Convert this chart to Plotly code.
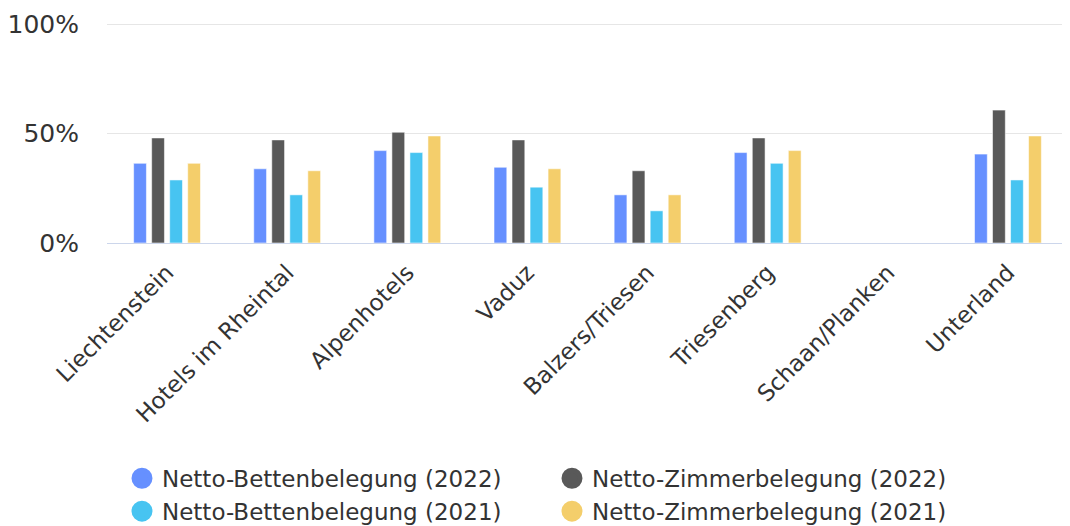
import plotly.graph_objects as go

categories = ["Liechtenstein", "Hotels im Rheintal", "Alpenhotels", "Vaduz",
              "Balzers/Triesen", "Triesenberg", "Schaan/Planken", "Unterland"]
betten_2022 = [36.4, 33.9, 42.2, 34.6, 22.0, 41.3, None, 40.6]
zimmer_2022 = [48.0, 47.1, 50.6, 47.1, 33.0, 48.0, None, 60.7]
betten_2021 = [28.8, 22.0, 41.3, 25.5, 14.7, 36.4, None, 28.8]
zimmer_2021 = [36.4, 33.0, 48.9, 33.9, 22.0, 42.2, None, 48.9]

series_names = ["Netto-Bettenbelegung (2022)", "Netto-Zimmerbelegung (2022)",
                "Netto-Bettenbelegung (2021)", "Netto-Zimmerbelegung (2021)"]
series_values = [betten_2022, zimmer_2022, betten_2021, zimmer_2021]
colors = ["#6690ff", "#595959", "#47c4f1", "#f4ce6b"]
y_ticks = [0, 50, 100]
y_tick_labels = ["0%", "50%", "100%"]

FONT = "DejaVu Sans"
fig = go.Figure()
for name, vals, col in zip(series_names, series_values, colors):
    fig.add_trace(go.Bar(
        x=categories, y=vals, name=name, showlegend=False,
        marker=dict(color=col, line=dict(color="rgba(255,255,255,0.55)", width=1)),
    ))
for name, col in zip(series_names, colors):
    fig.add_trace(go.Scatter(
        x=[None], y=[None], mode="markers", name=name,
        marker=dict(symbol="circle", size=16, color=col, line=dict(color=col, width=5)),
    ))

fig.update_layout(
    width=1062, height=518,
    margin=dict(l=99, r=2, t=15, b=283, autoexpand=False),
    paper_bgcolor="white", plot_bgcolor="white",
    barmode="group", bargap=0.4, bargroupgap=0.29,
    font=dict(family=FONT, color="#333333", size=23),
    legend=dict(
        orientation="h", x=0.0156, xanchor="left", y=-0.972, yanchor="top",
        entrywidth=385, font=dict(size=23, family=FONT, color="#333333"),
    ),
)
fig.update_xaxes(
    tickangle=-45, showline=True, linecolor="#ccd6eb", linewidth=1,
    showgrid=False, ticks="", automargin=False, ticklabelstandoff=6,
    tickfont=dict(size=23, family=FONT, color="#333333"),
)
fig.update_yaxes(
    range=[0, 100.5], tickvals=y_ticks, ticktext=y_tick_labels,
    showgrid=True, gridcolor="#e6e6e6", gridwidth=1, zeroline=False,
    automargin=False, ticklabelstandoff=27,
    tickfont=dict(size=25, family=FONT, color="#333333"),
)
fig.write_html("out.html")
